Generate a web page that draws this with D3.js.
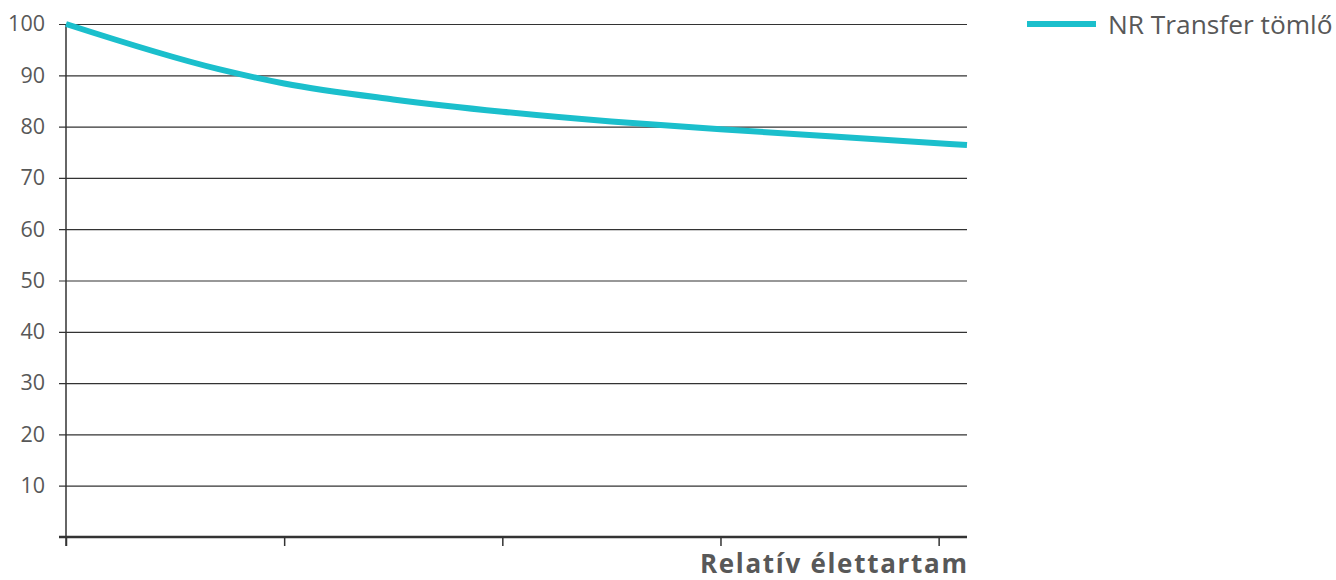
<!DOCTYPE html>
<html lang="hu">
<head>
<meta charset="utf-8">
<title>Relatív élettartam</title>
<script src="https://d3js.org/d3.v7.min.js"></script>
<style>
body { margin: 0; background: #fff; }
text { font-family: "Open Sans", sans-serif; fill: #585858; }
.grid line { stroke: #333; stroke-width: 1.2; }
.grid path { display: none; }
</style>
</head>
<body>
<div id="container"></div>
<script>
// data
var lifeX = [0, 0.7, 1, 1.5, 2, 2.5, 3, 3.5, 4.13];
var hoseValues = [100, 91.2, 88.4, 85.3, 82.9, 81.0, 79.5, 78.1, 76.4];
var yTicks = [10, 20, 30, 40, 50, 60, 70, 80, 90, 100];
var xTicks = [0, 1, 2, 3, 4];
var seriesName = "NR Transfer tömlő";
var xTitle = "Relatív élettartam";

var W = 1336, H = 580;
var margin = {left: 66, top: 24, right: 369, bottom: 43};
var w = W - margin.left - margin.right;
var h = H - margin.top - margin.bottom;

var svg = d3.select("#container").append("svg")
  .attr("width", W).attr("height", H);
var g = svg.append("g").attr("transform", "translate(" + margin.left + "," + margin.top + ")");

var x = d3.scaleLinear().domain([0, 4.13]).range([0, w]);
var y = d3.scaleLinear().domain([0, 100]).range([h, 0]);

// horizontal grid + y labels
var yAxis = g.append("g").attr("class", "grid")
  .call(d3.axisLeft(y).tickValues(yTicks).tickSize(-w).tickPadding(21));
yAxis.selectAll("line").attr("x1", -7);
yAxis.selectAll("text").style("font-size", "21.5px");

// y axis line
g.append("line")
  .attr("x1", 0).attr("x2", 0).attr("y1", 0).attr("y2", h + 9)
  .attr("stroke", "#333").attr("stroke-width", 1.5);

// x axis
var xAxis = g.append("g").attr("transform", "translate(0," + h + ")")
  .call(d3.axisBottom(x).tickValues(xTicks).tickSize(9).tickFormat(""));
xAxis.select(".domain").remove();
xAxis.selectAll("line").attr("stroke", "#333").attr("stroke-width", 1.5);
xAxis.append("line")
  .attr("x1", -7).attr("x2", w).attr("y1", 0).attr("y2", 0)
  .attr("stroke", "#333").attr("stroke-width", 2.5);

g.append("text")
  .attr("x", w + 1.7).attr("y", h + 36)
  .attr("text-anchor", "end")
  .style("font-size", "26px").style("font-weight", "bold")
  .style("letter-spacing", "1.7px")
  .text(xTitle);

// series
var line = d3.line()
  .x(function(d, i) { return x(lifeX[i]); })
  .y(function(d) { return y(d); })
  .curve(d3.curveMonotoneX);

g.append("path")
  .datum(hoseValues)
  .attr("fill", "none")
  .attr("stroke", "#1bbfcc")
  .attr("stroke-width", 6)
  .attr("d", line);

// legend
var lg = svg.append("g").attr("transform", "translate(1027,24)");
lg.append("line").attr("x1", 0).attr("x2", 69).attr("y1", 0).attr("y2", 0)
  .attr("stroke", "#1bbfcc").attr("stroke-width", 6);
lg.append("text").attr("x", 81).attr("y", 9.5)
  .style("font-size", "26.3px").text(seriesName);
</script>
</body>
</html>
